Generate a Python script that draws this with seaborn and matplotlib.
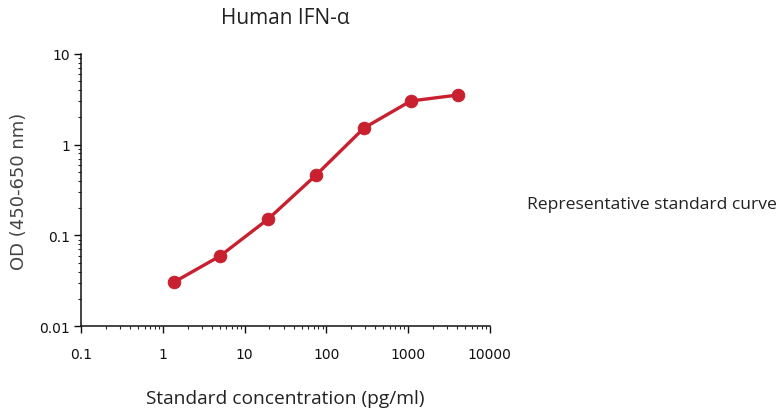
import matplotlib
matplotlib.use("Agg")
import matplotlib.pyplot as plt
import matplotlib.ticker as mticker
import seaborn as sns
import pandas as pd

# standard curve values
concentration = [1.37, 5.0, 19.5, 75.0, 290.0, 1080.0, 4100.0]
od = [0.0306, 0.0593, 0.152, 0.463, 1.53, 3.03, 3.53]

x_ticks = [0.1, 1, 10, 100, 1000, 10000]
x_tick_labels = ["0.1", "1", "10", "100", "1000", "10000"]
y_ticks = [0.01, 0.1, 1, 10]
y_tick_labels = ["0.01", "0.1", "1", "10"]

df = pd.DataFrame({"conc": concentration, "od": od})

sns.set_style("ticks")
plt.rcParams["font.family"] = ["DejaVu Sans"]

red = "#C8202F"
text_col = "#222222"

fig = plt.figure(figsize=(7.81, 4.10), dpi=100)
ax = fig.add_axes([0.104, 0.202, 0.523, 0.664])

sns.lineplot(data=df, x="conc", y="od", ax=ax, color=red, linewidth=2.4,
             marker="o", markersize=9, markeredgecolor=red, markerfacecolor=red)

ax.set_xscale("log")
ax.set_yscale("log")
ax.set_xlim(0.1, 10000)
ax.set_ylim(0.01, 10)

ax.set_xticks(x_ticks)
ax.set_xticklabels(x_tick_labels)
ax.set_yticks(y_ticks)
ax.set_yticklabels(y_tick_labels)
ax.xaxis.set_minor_locator(mticker.LogLocator(base=10, subs=range(2, 10), numticks=20))
ax.yaxis.set_minor_locator(mticker.LogLocator(base=10, subs=range(2, 10), numticks=20))
ax.xaxis.set_minor_formatter(mticker.NullFormatter())
ax.yaxis.set_minor_formatter(mticker.NullFormatter())

ax.tick_params(axis="both", which="major", length=5, width=1, labelsize=10,
               colors="#111111")
ax.tick_params(axis="x", which="major", pad=10)
ax.tick_params(axis="y", which="major", pad=3)
ax.tick_params(axis="both", which="minor", length=2.5, width=0.8)
for s in ["top", "right"]:
    ax.spines[s].set_visible(False)
for s in ["left", "bottom"]:
    ax.spines[s].set_linewidth(1.1)
    ax.spines[s].set_color("#111111")

ax.set_xlabel("Standard concentration (pg/ml)", fontsize=13.8, color=text_col,
              family=["Open Sans", "DejaVu Sans"], labelpad=20)
ax.set_ylabel("OD (450-650 nm)", fontsize=13, color="#444444", labelpad=8,
              fontweight="medium")
ax.set_title("Human IFN-α", fontsize=15, color=text_col,
             family=["Open Sans", "DejaVu Sans"], pad=22)

fig.text(0.675, 0.5, "Representative standard curve", fontsize=12.6,
         color=text_col, family=["Open Sans", "DejaVu Sans"], va="center")

fig.savefig("out.png", dpi=100)
